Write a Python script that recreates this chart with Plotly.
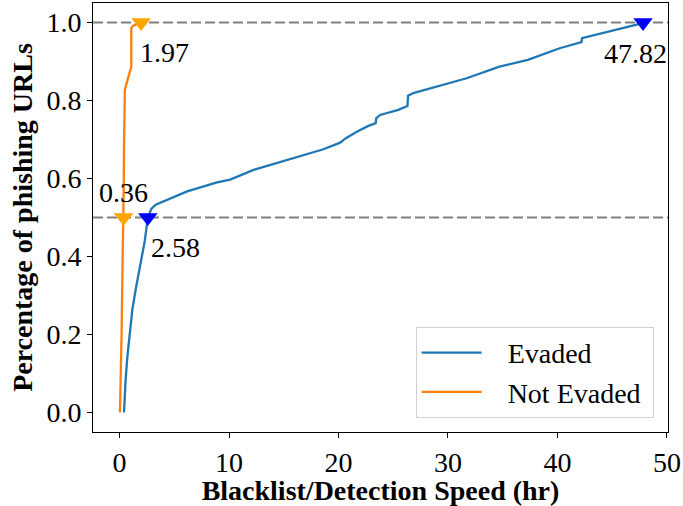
import plotly.graph_objects as go

# ---- data ----
evaded_x = [0.40, 0.45, 0.55, 0.70, 0.85, 1.16, 1.46, 1.91, 2.30, 2.58, 2.90, 3.30, 4.50, 6.17,
            8.90, 10.10, 12.24, 14.68, 16.50, 18.62, 20.15, 20.60, 21.67, 22.73, 23.40, 23.45,
            23.80, 25.46, 26.30, 26.35, 26.83, 28.65, 31.70, 34.70, 37.30, 40.20, 42.20, 42.25,
            44.50, 47.60, 47.82]
evaded_y = [0.000, 0.040, 0.084, 0.140, 0.186, 0.263, 0.314, 0.383, 0.440, 0.500, 0.522, 0.533,
            0.548, 0.567, 0.590, 0.597, 0.622, 0.642, 0.658, 0.675, 0.692, 0.702, 0.720, 0.735,
            0.742, 0.755, 0.763, 0.776, 0.786, 0.812, 0.819, 0.833, 0.857, 0.887, 0.904, 0.934,
            0.950, 0.960, 0.975, 0.997, 1.000]

not_evaded_x = [0.03, 0.10, 0.18, 0.27, 0.33, 0.36, 0.38, 0.40, 0.44, 0.48, 0.55, 0.70, 0.94,
                1.07, 1.07, 1.25, 1.97]
not_evaded_y = [0.000, 0.080, 0.200, 0.383, 0.460, 0.500, 0.580, 0.674, 0.760, 0.827, 0.835,
                0.850, 0.879, 0.887, 0.986, 0.992, 1.000]

levels = [0.5, 1.0]                 # median and max reference lines
evaded_marks = [2.58, 47.82]        # evaded time at 50% and 100%
not_evaded_marks = [0.36, 1.97]     # not-evaded time at 50% and 100%

series_names = ["Evaded", "Not Evaded"]
x_ticks = [0, 10, 20, 30, 40, 50]
y_ticks = [0.0, 0.2, 0.4, 0.6, 0.8, 1.0]

# ---- styles ----
FONT = "Liberation Serif, Times New Roman, serif"
FS = 28
BLUE, ORANGE = "#1f77b4", "#ff7f0e"
PAD_L = "\u00a0\u00a0\u00a0"
PAD_R = "\u00a0"

fig = go.Figure()
fig.add_trace(go.Scatter(x=evaded_x, y=evaded_y, mode="lines",
                         name=PAD_L + series_names[0] + PAD_R,
                         line=dict(color=BLUE, width=2.3)))
fig.add_trace(go.Scatter(x=not_evaded_x, y=not_evaded_y, mode="lines",
                         name=PAD_L + series_names[1] + PAD_R,
                         line=dict(color=ORANGE, width=2.3)))
fig.add_trace(go.Scatter(x=evaded_marks, y=levels, mode="markers", showlegend=False,
                         marker=dict(symbol="triangle-down", size=17, color="blue")))
fig.add_trace(go.Scatter(x=not_evaded_marks, y=levels, mode="markers", showlegend=False,
                         marker=dict(symbol="triangle-down", size=17, color="orange")))

for lv in levels:
    fig.add_hline(y=lv, line=dict(color="gray", dash="10px,4px", width=2), layer="below")

# label offsets (style only)
label_style = {
    (2.58, 0.5): dict(xanchor="left", xshift=1, yshift=-30),
    (47.82, 1.0): dict(xanchor="center", xshift=-8, yshift=-31),
    (0.36, 0.5): dict(xanchor="center", xshift=0, yshift=25),
    (1.97, 1.0): dict(xanchor="left", xshift=-3, yshift=-30),
}
for xs in (evaded_marks, not_evaded_marks):
    for xv, lv in zip(xs, levels):
        st = label_style[(xv, lv)]
        fig.add_annotation(x=xv, y=lv, text=f"{xv:.2f}", showarrow=False, yanchor="middle",
                           font=dict(family=FONT, size=FS, color="black"), **st)

axis_common = dict(showline=True, mirror=True, linecolor="black", linewidth=1,
                   ticks="outside", ticklen=5, tickwidth=1, tickcolor="black",
                   showgrid=False, zeroline=False,
                   tickfont=dict(family=FONT, size=FS, color="black"))

fig.update_xaxes(range=[-2.43, 50.1], tickvals=x_ticks, ticktext=[str(t) for t in x_ticks],
                 title=dict(text="Blacklist/Detection Speed (hr)", standoff=3,
                            font=dict(family=FONT, size=FS, color="black", weight="bold")),
                 **axis_common)
fig.update_yaxes(range=[-0.05, 1.05], tickvals=y_ticks, ticktext=[f"{t:.1f}" for t in y_ticks],
                 title=dict(text="Percentage of phishing URLs", standoff=5,
                            font=dict(family=FONT, size=FS, color="black", weight="bold")),
                 **axis_common)

fig.update_layout(
    width=683, height=506,
    margin=dict(l=93, r=15, t=3, b=74, autoexpand=False),
    paper_bgcolor="white", plot_bgcolor="white",
    font=dict(family=FONT, size=FS, color="black"),
    legend=dict(x=0.975, y=0.033, xanchor="right", yanchor="bottom",
                bgcolor="rgba(255,255,255,0.8)", bordercolor="#d0d0d0", borderwidth=1,
                font=dict(family=FONT, size=FS, color="black"), itemwidth=60),
)

fig.write_html("out.html")
